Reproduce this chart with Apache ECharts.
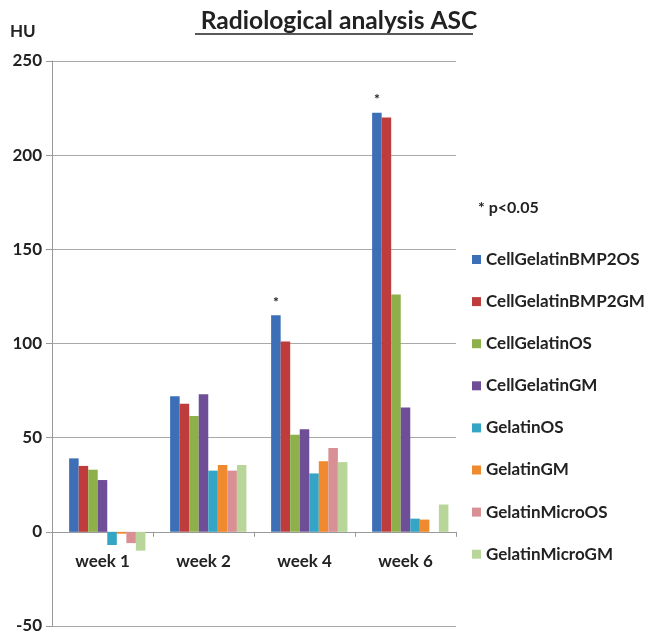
<!DOCTYPE html>
<html>
<head>
<meta charset="utf-8">
<script src="https://cdn.jsdelivr.net/npm/echarts@6/dist/echarts.min.js"></script>
<style>html,body{margin:0;padding:0;background:#fff}#c{width:649px;height:634px}</style>
</head>
<body>
<div id="c"></div>
<script>
var categories = ['week 1', 'week 2', 'week 4', 'week 6'];
var seriesNames = ['CellGelatinBMP2OS', 'CellGelatinBMP2GM', 'CellGelatinOS', 'CellGelatinGM', 'GelatinOS', 'GelatinGM', 'GelatinMicroOS', 'GelatinMicroGM'];
var cellGelatinBMP2OS = [39, 72, 115, 222.5];
var cellGelatinBMP2GM = [35, 68, 101, 220];
var cellGelatinOS = [33, 61.5, 51.5, 126];
var cellGelatinGM = [27.5, 73, 54.5, 66];
var gelatinOS = [-7, 32.5, 31, 7];
var gelatinGM = [-1, 35.5, 37.5, 6.5];
var gelatinMicroOS = [-6, 32.5, 44.5, null];
var gelatinMicroGM = [-10, 35.5, 37, 14.5];
var significant = [false, false, true, true];
var yTicks = [-50, 0, 50, 100, 150, 200, 250];
var colors = ['#3D6FB6', '#BE3D3C', '#8DB04B', '#6E4E96', '#34A5C4', '#F08A2E', '#D99094', '#B8D69A'];

var allValues = [cellGelatinBMP2OS, cellGelatinBMP2GM, cellGelatinOS, cellGelatinGM, gelatinOS, gelatinGM, gelatinMicroOS, gelatinMicroGM];

var FONT = 'Lato';
var GRID_TOP = 61, GRID_BOTTOM = 8, H = 634;
var yMin = yTicks[0], yMax = yTicks[yTicks.length - 1];
// distance of the zero line above the bottom of the plot, derived from the axis range
var zeroOffset = (0 - yMin) / (yMax - yMin) * (H - GRID_TOP - GRID_BOTTOM);

var series = [{ name: 'spacer', type: 'bar', data: [], barGap: '0%', barCategoryGap: '15%' }];
allValues.forEach(function (vals, i) {
  series.push({
    name: seriesNames[i],
    type: 'bar',
    barGap: '0%',
    barCategoryGap: '15%',
    itemStyle: { color: colors[i] },
    data: vals.map(function (v, j) {
      if (i === 0 && significant[j]) {
        return { value: v, label: { show: true, position: 'top', distance: 6, formatter: '*', fontSize: 14, fontWeight: 'bold', color: '#222', fontFamily: FONT } };
      }
      return v;
    })
  });
});

var chart = echarts.init(document.getElementById('c'), null, { renderer: 'canvas' });
chart.setOption({
  animation: false,
  color: colors,
  title: {
    text: 'Radiological analysis ASC',
    left: 334, top: 4, textAlign: 'center',
    textStyle: { fontFamily: FONT, fontSize: 24.6, fontWeight: 'bold', color: '#222' }
  },
  graphic: [
    { type: 'line', shape: { x1: 195, y1: 34, x2: 473, y2: 34 }, style: { stroke: '#222', lineWidth: 1.5 } },
    { type: 'text', left: 10, top: 23, style: { text: 'HU', fontFamily: FONT, fontSize: 17, fontWeight: 'bold', fill: '#222' } },
    { type: 'text', left: 478, top: 200, style: { text: '* p<0.05', fontFamily: FONT, fontSize: 16, fontWeight: 'bold', fill: '#222' } }
  ],
  legend: {
    orient: 'vertical',
    left: 467, top: 246,
    data: seriesNames,
    icon: 'rect',
    itemWidth: 9, itemHeight: 9,
    itemGap: 25.1,
    textStyle: { fontFamily: FONT, fontSize: 17, fontWeight: 'bold', color: '#222', lineHeight: 16 }
  },
  grid: { left: 52, right: 193, top: GRID_TOP, bottom: GRID_BOTTOM, containLabel: false, outerBoundsMode: 'none' },
  xAxis: {
    type: 'category',
    data: categories,
    offset: -zeroOffset,
    axisLine: { onZero: false, lineStyle: { color: '#999', width: 1 } },
    axisTick: { show: true, length: 5, lineStyle: { color: '#999' } },
    axisLabel: { fontFamily: FONT, fontSize: 17, fontWeight: 'bold', color: '#222', margin: 21 }
  },
  yAxis: {
    type: 'value',
    min: yMin, max: yMax, interval: 50,
    axisLine: { show: true, lineStyle: { color: '#999', width: 1 } },
    axisTick: { show: true, length: 6, lineStyle: { color: '#999' } },
    axisLabel: { fontFamily: FONT, fontSize: 17, fontWeight: 'bold', color: '#222', margin: 10 },
    splitLine: { show: true, lineStyle: { color: '#a8a8a8', width: 1 } }
  },
  series: series
});
</script>
</body>
</html>
